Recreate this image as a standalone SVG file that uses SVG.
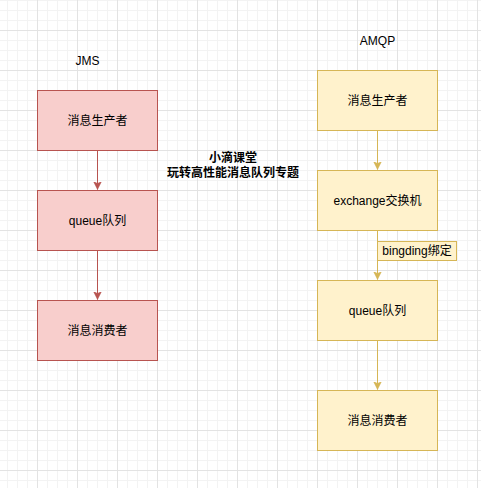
<svg xmlns="http://www.w3.org/2000/svg" width="481" height="488" viewBox="0 0 481 488">
<defs>
<pattern id="grid" patternUnits="userSpaceOnUse" x="0" y="0" width="40" height="40">
<path d="M7.5,0V40M17.5,0V40M27.5,0V40M0,0.5H40M0,10.5H40M0,20.5H40" stroke="#f3f3f3" stroke-width="1" fill="none"/>
<path d="M37.5,0V40M0,30.5H40" stroke="#e3e3e3" stroke-width="1" fill="none"/>
</pattern>
<marker id="arrR" markerUnits="userSpaceOnUse" markerWidth="10" markerHeight="10" refX="8" refY="4" orient="auto">
<path d="M0,0L8,4L0,8L2,4Z" fill="#b85450" stroke="#b85450" stroke-width="0.5"/>
</marker>
<marker id="arrY" markerUnits="userSpaceOnUse" markerWidth="10" markerHeight="10" refX="8" refY="4" orient="auto">
<path d="M0,0L8,4L0,8L2,4Z" fill="#d6b656" stroke="#d6b656" stroke-width="0.5"/>
</marker>
</defs>
<style>
text{font-family:"Liberation Sans","Noto Sans CJK SC",sans-serif;font-size:12px;fill:#000;text-anchor:middle;dominant-baseline:central}
.red{fill:#f8cecc;stroke:#b85450;stroke-width:1}
.yel{fill:#fff2cc;stroke:#d6b656;stroke-width:1}
.er{stroke:#b85450;stroke-width:1;fill:none;marker-end:url(#arrR)}
.ey{stroke:#d6b656;stroke-width:1;fill:none;marker-end:url(#arrY)}
.title{font-weight:bold}
</style>
<rect x="0" y="0" width="481" height="488" fill="#ffffff"/>
<rect x="0" y="0" width="481" height="488" fill="url(#grid)"/>

<g id="edges">
<path class="er" d="M97.5,150.5V189.5"/>
<path class="er" d="M97.5,250.5V299.5"/>
<path class="ey" d="M377.5,130.5V169.5"/>
<path class="ey" d="M377.5,230.5V279.5"/>
<path class="ey" d="M377.5,340.5V389.5"/>
</g>

<g id="jms-label"><text x="87.5" y="61">JMS</text></g>
<g id="amqp-label"><text x="377.5" y="41">AMQP</text></g>
<g id="title"><text class="title" x="233" y="158">小滴课堂</text><text class="title" x="233" y="172.5">玩转高性能消息队列专题</text></g>

<g id="jms-producer"><rect class="red" x="37.5" y="90.5" width="120" height="60"/><text x="97.5" y="120.5">消息生产者</text></g>
<g id="jms-queue"><rect class="red" x="37.5" y="190.5" width="120" height="60"/><text x="97.5" y="220.5">queue队列</text></g>
<g id="jms-consumer"><rect class="red" x="37.5" y="300.5" width="120" height="60"/><text x="97.5" y="330.5">消息消费者</text></g>

<g id="amqp-producer"><rect class="yel" x="317.5" y="70.5" width="120" height="60"/><text x="377.5" y="100.5">消息生产者</text></g>
<g id="amqp-exchange"><rect class="yel" x="317.5" y="170.5" width="120" height="60"/><text x="377.5" y="200.5">exchange交换机</text></g>
<g id="binding-label"><rect class="yel" x="377.5" y="241.5" width="79" height="19"/><text x="417" y="251">bingding绑定</text></g>
<g id="amqp-queue"><rect class="yel" x="317.5" y="280.5" width="120" height="60"/><text x="377.5" y="310.5">queue队列</text></g>
<g id="amqp-consumer"><rect class="yel" x="317.5" y="390.5" width="120" height="60"/><text x="377.5" y="420.5">消息消费者</text></g>
</svg>
